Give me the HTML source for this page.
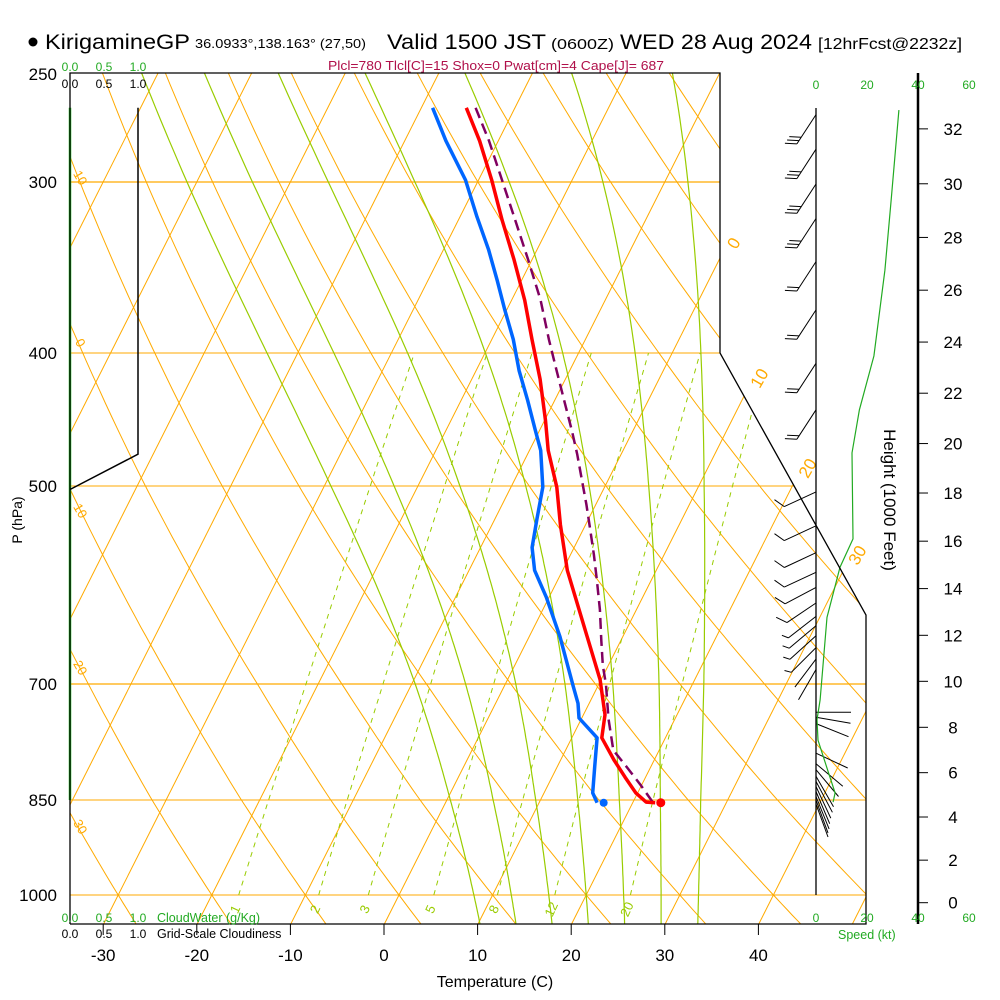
<!DOCTYPE html>
<html><head><meta charset="utf-8"><style>
html,body{margin:0;padding:0;background:#fff;}
svg{display:block;font-family:"Liberation Sans",sans-serif;}
</style></head><body>
<svg id="chart" width="1000" height="1000" viewBox="0 0 1000 1000" xmlns="http://www.w3.org/2000/svg">
<defs><clipPath id="plotclip"><polygon points="70,73 720,73 720,353 866,615 866,924 70,924"/></clipPath></defs>
<rect x="0" y="0" width="1000" height="1000" fill="#fff"/>
<g>
<circle cx="33" cy="42" r="4.5" fill="#000"/>
<text x="45" y="49" font-size="21" textLength="145" lengthAdjust="spacingAndGlyphs">KirigamineGP</text>
<text x="195" y="48" font-size="13" textLength="171" lengthAdjust="spacingAndGlyphs">36.0933°,138.163° (27,50)</text>
<text x="387" y="49" font-size="21" textLength="159" lengthAdjust="spacingAndGlyphs">Valid 1500 JST</text>
<text x="551" y="49" font-size="15" textLength="63" lengthAdjust="spacingAndGlyphs">(0600Z)</text>
<text x="620" y="49" font-size="21" textLength="192" lengthAdjust="spacingAndGlyphs">WED 28 Aug 2024</text>
<text x="818" y="49" font-size="16" textLength="144" lengthAdjust="spacingAndGlyphs">[12hrFcst@2232z]</text>
<text x="328" y="70" font-size="12.5" fill="#b0104a" textLength="336" lengthAdjust="spacingAndGlyphs">Plcl=780 Tlcl[C]=15 Shox=0 Pwat[cm]=4 Cape[J]= 687</text>
</g>
<g id="grid" clip-path="url(#plotclip)"></g>
<g id="marks"></g>
<g id="axes"></g>
</svg>
<script>
// ---- data ----
const tempP = [265,280,299,320,342,366,391,418,448,471,501,534,577,646,695,737,766,795,818,840,853,854];
const tempC = [-35.2,-32.0,-28.6,-25.3,-21.9,-18.6,-15.7,-12.7,-9.9,-8.0,-5.1,-2.7,0.5,6.2,9.9,12.3,13.2,15.7,17.8,19.8,21.4,22.4];
const dewP = [265,280,299,318,336,354,372,391,412,433,455,471,501,529,555,577,604,646,703,723,741,766,804,840,854];
const dewC = [-38.8,-35.6,-31.4,-28.2,-25.2,-22.6,-20.2,-17.7,-15.4,-12.9,-10.5,-8.8,-6.6,-5.5,-4.5,-3.0,-0.3,3.3,7.4,8.8,9.7,12.7,14.0,15.2,16.2];
const parcelP = [265,280,299,320,342,366,391,412,433,456,474,495,516,539,562,587,617,650,678,701,742,782,805,829,853];
const parcelC = [-34.2,-31.0,-27.5,-23.9,-20.4,-16.9,-13.9,-11.4,-9.0,-6.5,-4.7,-2.8,-1.0,0.8,2.5,4.2,6.1,7.9,9.4,10.8,12.9,15.1,17.5,19.9,22.1];
const sfcP = 854, sfcT = 23.0, sfcTd = 16.9;
const windP = [268,284,301,319,343,372,407,440,505,535,560,579,594,610,624,634,645,658,671,683,734,740,748,786,800,808,817,824,831,838,845,850,856];
const windDir = [213,213,213,213,213,213,213,213,245,245,245,245,242,236,232,230,228,225,217,210,90,100,112,115,130,140,150,152,155,157,158,160,160];
const windSpd = [30,30,30,30,20,20,20,20,10,10,10,10,10,10,5,5,5,5,2,2,2,2,2,2,2,2,2,2,2,2,2,2,2];
const spdProfP = [266,309,348,402,440,473,547,574,625,670,719,743,769,810,840,853];
const spdProfKt = [32.5,29.5,27,22.7,17,14.1,14.5,9.4,4.3,3,1.6,0.4,0.8,4.7,7.5,6.7];
const cloudP = [265,474,503];
const cloudFrac = [1,1,0];
const cwP = [265,850];
const cwVal = [0,0];
const pressTicks = [250,300,400,500,700,850,1000];
const tempTicks = [-30,-20,-10,0,10,20,30,40];
const heightTicks = [0,2,4,6,8,10,12,14,16,18,20,22,24,26,28,30,32];
const isoLabels = [0,10,20,30];
const thetaLabels = ["10","0","10","20","30"];
const mixRatios = [1,2,3,5,8,12,20];
const moistThetas = [8,12,16,20,24,28,32];

// ---- axis functions ----
const PA=[250,300,400,500,700,850,1000], YA=[73,182,353,486,684,800,895];
function yOf(p){
  let i=0; while(i<PA.length-2 && p>PA[i+1]) i++;
  return YA[i]+Math.log(p/PA[i])/Math.log(PA[i+1]/PA[i])*(YA[i+1]-YA[i]);
}
function xOf(T,p){ return 399+9.36*T+0.504*(895-yOf(p)); }
function xBottom(T){ return 384+9.36*T; }
function xSpd(k){ return 816+2.55*k; }
function xCloud(v){ return 70+68*v; }
function yHeight(kft){ const m=kft*1000*0.3048; return yOf(1013.25*Math.pow(1-2.25577e-5*m,5.25588)); }

const NS="http://www.w3.org/2000/svg";
function mk(parent,tag,attrs,txt){const e=document.createElementNS(NS,tag);for(const k in attrs)e.setAttribute(k,attrs[k]);if(txt!==undefined)e.textContent=txt;parent.appendChild(e);return e;}
function pts(a){return a.map(q=>q[0].toFixed(1)+","+q[1].toFixed(1)).join(" ");}
const grid=document.getElementById('grid'), marks=document.getElementById('marks'), axes=document.getElementById('axes');
const OR="#ffaa00", GR="#99cc00";

// isobars
pressTicks.forEach(p=>{
  const y=yOf(p);
  const l=mk(grid,'line',{x1:70,y1:y,x2:870,y2:y,stroke:OR,'stroke-width':(p==300||p==700)?1.3:1});
  
  
});
// isotherms
for(let T=-110;T<=50;T+=10){
  const a=mk(grid,'line',{x1:399+9.36*T+0.504*(895-924),y1:924,x2:399+9.36*T+0.504*(895-73),y2:73,stroke:OR,'stroke-width':1});
  
  
}
// dry adiabats
for(let th=-40;th<=130;th+=10){
  const arr=[];for(let p=1055;p>=245;p-=10){const T=(th+273.15)*Math.pow(p/1000,0.286)-273.15;arr.push([xOf(T,p),yOf(p)]);}
  const d=mk(grid,'polyline',{points:pts(arr),fill:'none',stroke:OR,'stroke-width':1});
  
  
}
// moist adiabats
function es(T){return 6.112*Math.exp(17.67*T/(T+243.5));}
function dTdp(T,p){const Tk=T+273.15,e=es(T),r=0.622*e/(p-e);return (287*Tk+2.5e6*r)/(1004+2.5e6*2.5e6*r*0.622/(287*Tk*Tk))/p;}
moistThetas.forEach(tw=>{
  const up=[];let T=tw;for(let p=1000;p>=250;p-=5){up.push([xOf(T,p),yOf(p)]);const k1=dTdp(T,p);const k2=dTdp(T-5*k1,p-5);T-=5*(k1+k2)/2;}
  const dn=[];T=tw;for(let p=1000;p<=1055;p+=5){dn.unshift([xOf(T,p),yOf(p)]);const k1=dTdp(T,p);const k2=dTdp(T+5*k1,p+5);T+=5*(k1+k2)/2;}
  const m=mk(grid,'polyline',{points:pts(dn.concat(up)),fill:'none',stroke:GR,'stroke-width':1.2});
  
  
});
// mixing ratio lines
function tdOfW(w,p){const e=w*p/(622+w);const L=Math.log(e/6.112);return 243.5*L/(17.67-L);}
mixRatios.forEach(w=>{
  const arr=[];for(let p=1000;p>=400;p-=10)arr.push([xOf(tdOfW(w,p),p),yOf(p)]);
  const m=mk(grid,'polyline',{points:pts(arr),fill:'none',stroke:GR,'stroke-width':1,'stroke-dasharray':'5,5'});
  
  
  const lx=xOf(tdOfW(w,1000),1000)-4;
  const t=mk(axes,'text',{x:lx,y:914,'font-size':13,fill:GR,'text-anchor':'middle',transform:`rotate(-65 ${lx} 909)`},String(w));
  
  
});
// isotherm labels (right) & dry adiabat labels (left)
isoLabels.forEach((T,i)=>{
  const y=[243,378,468,555][i];
  const x=399+9.36*T+0.504*(895-y)+6;
  const t=mk(axes,'text',{x:x,y:y+6,'font-size':17,fill:OR,'text-anchor':'middle',transform:`rotate(-60 ${x} ${y})`},String(T));
  
  
});
thetaLabels.forEach((s,i)=>{
  const y=[178,343,511,668,827][i];
  const t=mk(axes,'text',{x:80,y:y+4,'font-size':13,fill:OR,'text-anchor':'middle',transform:`rotate(60 80 ${y})`},s);
  
  
});

// boundary
const bd=mk(axes,'polyline',{points:"70,924 70,73 720,73 720,353 866,615 866,924 70,924",fill:'none',stroke:'#000','stroke-width':1.3});


// cloudwater & cloudiness
const cw=mk(marks,'polyline',{points:pts(cwP.map((p,i)=>[xCloud(cwVal[i]),yOf(p)])),fill:'none',stroke:'#22bb22','stroke-width':2.5});


const cl=mk(marks,'polyline',{points:pts(cloudP.map((p,i)=>[xCloud(cloudFrac[i]),yOf(p)])),fill:'none',stroke:'#000','stroke-width':1.5});



// curves
const pc=mk(marks,'polyline',{points:pts(parcelP.map((p,i)=>[xOf(parcelC[i],p),yOf(p)])),fill:'none',stroke:'#800060','stroke-width':2.5,'stroke-dasharray':'11,6'});


const dc=mk(marks,'polyline',{points:pts(dewP.map((p,i)=>[xOf(dewC[i],p),yOf(p)])),fill:'none',stroke:'#0066ff','stroke-width':3.5,'stroke-linejoin':'round'});


const tc=mk(marks,'polyline',{points:pts(tempP.map((p,i)=>[xOf(tempC[i],p),yOf(p)])),fill:'none',stroke:'#ff0000','stroke-width':3.5,'stroke-linejoin':'round'});


const sd=mk(marks,'circle',{cx:xOf(sfcTd,sfcP),cy:yOf(sfcP),r:4,fill:'#0066ff'});


const st=mk(marks,'circle',{cx:xOf(sfcT,sfcP),cy:yOf(sfcP),r:4.5,fill:'#ff0000'});



// wind staff and barbs
const staff=mk(axes,'line',{x1:816,y1:108,x2:816,y2:895,stroke:'#000','stroke-width':1.3});


windP.forEach((p,i)=>{
  const y=yOf(p),d=windDir[i]*Math.PI/180,ux=Math.sin(d),uy=-Math.cos(d);
  const tx=816+ux*35,ty=y+uy*35,fx=0.5*ux-0.866*uy,fy=0.866*ux+0.5*uy;
  let s="M816,"+y.toFixed(1)+"L"+tx.toFixed(1)+","+ty.toFixed(1);
  let n=Math.floor(windSpd[i]/10),h=(windSpd[i]%10)>=5,k=0;
  for(;k<n;k++){const sx=tx-ux*k*4,sy=ty-uy*k*4;s+="M"+sx.toFixed(1)+","+sy.toFixed(1)+"l"+(fx*12).toFixed(1)+","+(fy*12).toFixed(1);}
  if(h){const sx=tx-ux*k*4,sy=ty-uy*k*4;s+="M"+sx.toFixed(1)+","+sy.toFixed(1)+"l"+(fx*7).toFixed(1)+","+(fy*7).toFixed(1);}
  const b=mk(marks,'path',{d:s,fill:'none',stroke:'#000','stroke-width':1});
  
  
});
const sp=mk(marks,'polyline',{points:pts(spdProfP.map((p,i)=>[xSpd(spdProfKt[i]),yOf(p)])),fill:'none',stroke:'#22aa22','stroke-width':1.2});



// pressure labels
pressTicks.forEach(p=>{
  const t=mk(axes,'text',{x:57,y:yOf(p)+(p==250?7:6),'font-size':17,'text-anchor':'end'},String(p));
  
  
});
const pl=mk(axes,'text',{x:0,y:0,'font-size':14,'text-anchor':'middle',transform:'translate(22 520) rotate(-90)'},'P (hPa)');


// temperature ticks
tempTicks.forEach(T=>{
  const x=xBottom(T);
  const l=mk(axes,'line',{x1:x,y1:924,x2:x,y2:935,stroke:'#000','stroke-width':1});
  
  
  const t=mk(axes,'text',{x:x,y:961,'font-size':17,'text-anchor':'middle'},String(T));
  
  
});
const xt=mk(axes,'text',{x:495,y:987,'font-size':16,'text-anchor':'middle'},'Temperature (C)');


// height axis
const ha=mk(axes,'line',{x1:918,y1:73,x2:918,y2:924,stroke:'#000','stroke-width':2.5});


heightTicks.forEach(h=>{
  const y=yHeight(h);
  const l=mk(axes,'line',{x1:918,y1:y,x2:928,y2:y,stroke:'#000','stroke-width':1});
  
  
  const t=mk(axes,'text',{x:953,y:y+6,'font-size':17,'text-anchor':'middle'},String(h));
  
  
});
const ht=mk(axes,'text',{x:0,y:0,'font-size':17,'text-anchor':'middle',transform:'translate(884 500) rotate(90)'},'Height (1000 Feet)');


// small scale labels
[["0.0",70],["0.5",104],["1.0",138]].forEach(a=>{
  const g1=mk(axes,'text',{x:a[1],y:71,'font-size':12,fill:'#22aa22','text-anchor':'middle'},a[0]);
  
  
  const b1=mk(axes,'text',{x:a[1],y:88,'font-size':12,'text-anchor':'middle'},a[0]);
  
  
  const g2=mk(axes,'text',{x:a[1],y:922,'font-size':12,fill:'#22aa22','text-anchor':'middle'},a[0]);
  
  
  const b2=mk(axes,'text',{x:a[1],y:938,'font-size':12,'text-anchor':'middle'},a[0]);
  
  
});
const cwt=mk(axes,'text',{x:157,y:922,'font-size':12.5,fill:'#22aa22'},'CloudWater (g/Kg)');


const clt=mk(axes,'text',{x:157,y:938,'font-size':12.5},'Grid-Scale Cloudiness');


[0,20,40,60].forEach(k=>{
  const t1=mk(axes,'text',{x:xSpd(k),y:89,'font-size':12,fill:'#22aa22','text-anchor':'middle'},String(k));
  
  
  const t2=mk(axes,'text',{x:xSpd(k),y:922,'font-size':12,fill:'#22aa22','text-anchor':'middle'},String(k));
  
  
});
const skt=mk(axes,'text',{x:838,y:939,'font-size':12.5,fill:'#22aa22'},'Speed (kt)');


</script>
</body></html>
